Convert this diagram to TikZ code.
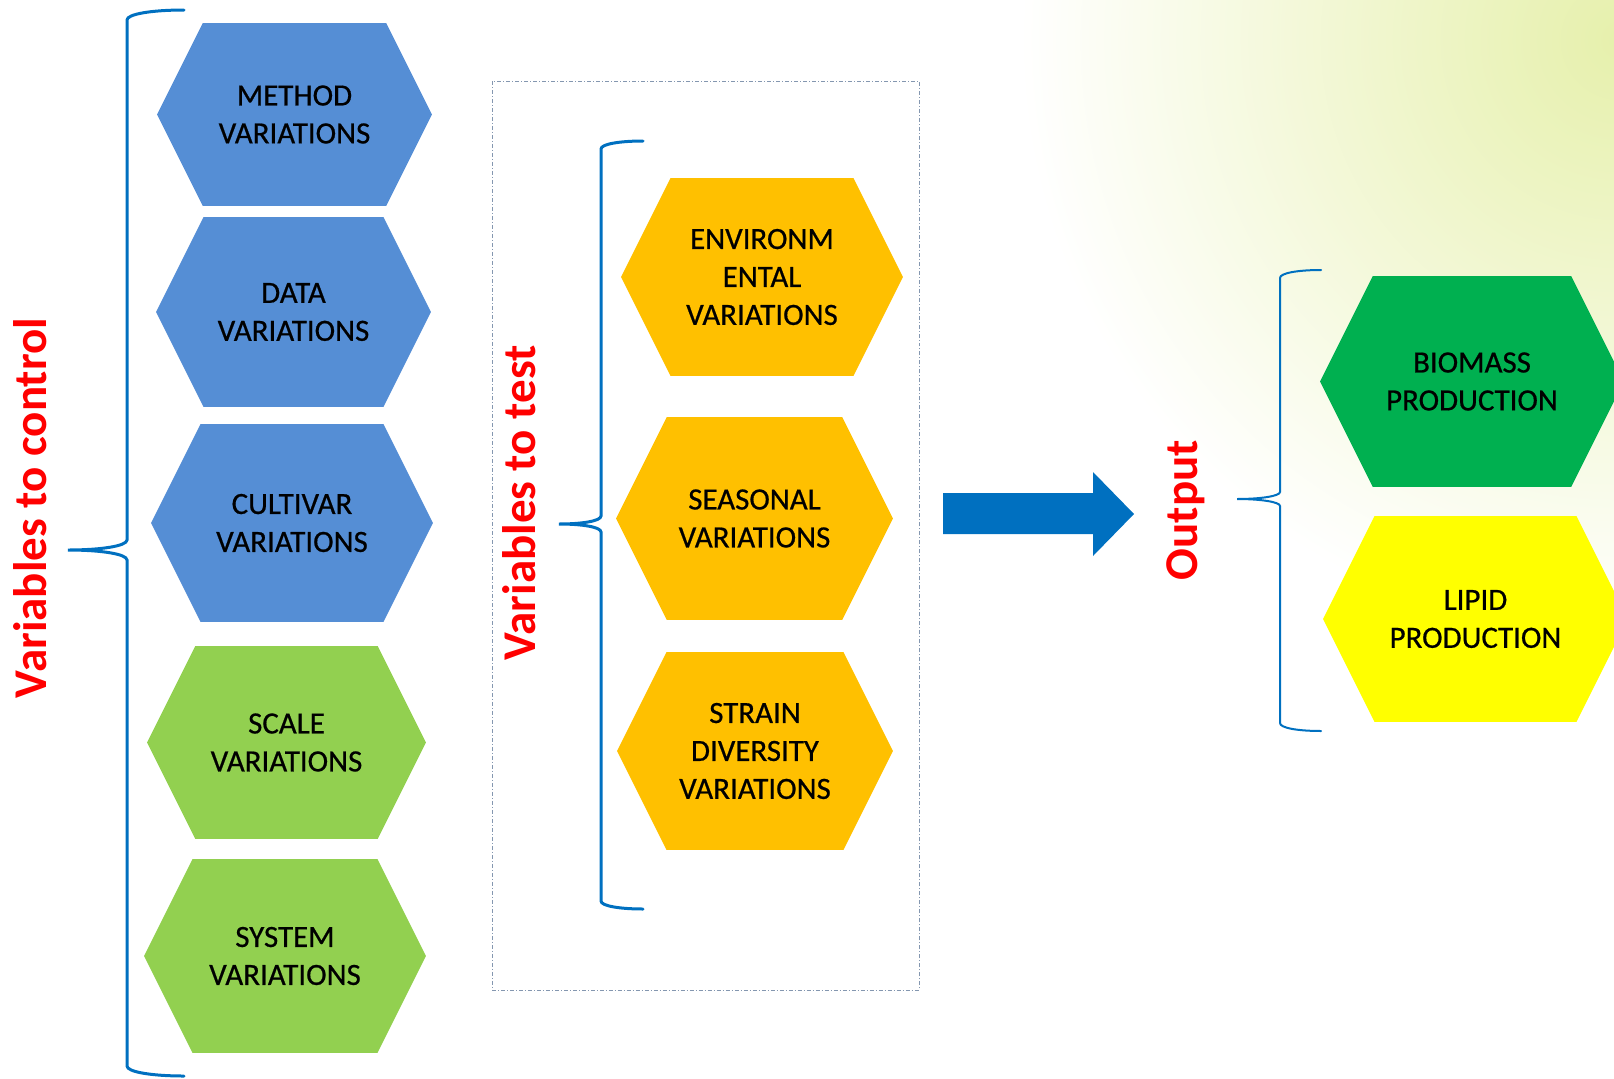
\documentclass[tikz,border=0pt]{standalone}
\usepackage{fontspec}
\setmainfont{Carlito}
\newfontfamily\hexfont[FakeBold=0.6]{Carlito}
\usetikzlibrary{calc}

\definecolor{hexblue}{HTML}{558ED5}
\definecolor{hexlime}{HTML}{92D050}
\definecolor{hexorange}{HTML}{FFC000}
\definecolor{hexgreen}{HTML}{00B050}
\definecolor{hexyellow}{HTML}{FFFF00}
\definecolor{bracecol}{HTML}{0070C0}
\definecolor{boxcol}{HTML}{8497B0}
\definecolor{bgtint}{RGB}{230,240,172}

\begin{document}
\begin{tikzpicture}[x=0.02cm, y=-0.02cm,
    hexa/.style={inner sep=0pt, align=center,
      font=\hexfont\fontsize{17.6}{21.6}\selectfont,
      path picture={
        \fill[#1] (path picture bounding box.west)
          -- ($(path picture bounding box.north west)!0.5!90:(path picture bounding box.west)$)
          -- ($(path picture bounding box.north east)!0.5!-90:(path picture bounding box.east)$)
          -- (path picture bounding box.east)
          -- ($(path picture bounding box.south east)!0.5!90:(path picture bounding box.east)$)
          -- ($(path picture bounding box.south west)!0.5!-90:(path picture bounding box.west)$)
          -- cycle;}},
    vlabel/.style={rotate=90, text=red, font=\fontsize{26.75}{30}\selectfont\bfseries},
    curly/.style={draw=bracecol, line width=0.06cm, line cap=round}]

    \useasboundingbox (0,0) rectangle (1614,1079);
    \clip (0,0) rectangle (1614,1079);

    % 背景
    \shade[inner color=bgtint, outer color=white] (1620,40) circle (600);

    % 六角形を置く
    \node[hexa=hexblue, minimum width=5.5cm, minimum height=3.66cm] (M) at (294.5, 114.5) {METHOD\\VARIATIONS};
    \node[hexa=hexblue, minimum width=5.5cm, minimum height=3.8cm] (D) at (293.5, 312) {DATA\\VARIATIONS};
    \node[hexa=hexblue, minimum width=5.64cm, minimum height=3.96cm] (C) at (292, 523) {CULTIVAR\\VARIATIONS};
    \node[hexa=hexlime, minimum width=5.58cm, minimum height=3.86cm] (SC) at (286.5, 742.5) {SCALE\\VARIATIONS};
    \node[hexa=hexlime, minimum width=5.64cm, minimum height=3.88cm] (SY) at (285, 956) {SYSTEM\\VARIATIONS};

    \node[hexa=hexorange, minimum width=5.64cm, minimum height=3.96cm] (E) at (762, 277) {ENVIRONM\\ENTAL\\VARIATIONS};
    \node[hexa=hexorange, minimum width=5.54cm, minimum height=4.06cm] (SE) at (754.5, 518.5) {SEASONAL\\VARIATIONS};
    \node[hexa=hexorange, minimum width=5.52cm, minimum height=3.96cm] (ST) at (755, 751) {STRAIN\\DIVERSITY\\VARIATIONS};

    \node[hexa=hexgreen, minimum width=6.08cm, minimum height=4.22cm] (B) at (1472, 381.5) {BIOMASS\\PRODUCTION};
    \node[hexa=hexyellow, minimum width=6.1cm, minimum height=4.12cm] (L) at (1475.5, 619) {LIPID\\PRODUCTION};

    % 枠
    \draw[boxcol, line width=0.02cm, dash pattern=on 0.08cm off 0.04cm on 0.02cm off 0.04cm] (492,81) rectangle (919,990);

    % 括弧を描く
    \draw[curly] (184,10) .. controls (152,10) and (127,14) .. (127,20)
        -- (127,540) .. controls (127,546) and (101,550) .. (68,550)
        .. controls (101,550) and (127,554) .. (127,560)
        -- (127,1066) .. controls (127,1072) and (152,1076) .. (184,1076);
    \draw[curly] (643,141) .. controls (620,141) and (601,144) .. (601,149)
        -- (601,516) .. controls (601,521) and (582,524) .. (559,524)
        .. controls (582,524) and (601,527) .. (601,532)
        -- (601,901) .. controls (601,906) and (620,909) .. (643,909);
    \draw[curly, line width=0.04cm] (1321,270) .. controls (1298,270) and (1280,273) .. (1280,278)
        -- (1280,492) .. controls (1280,496) and (1261,499) .. (1237,499)
        .. controls (1261,499) and (1280,502) .. (1280,506)
        -- (1280,723) .. controls (1280,728) and (1298,731) .. (1321,731);

    % 矢印
    \fill[bracecol] (943,493) -- (1093,493) -- (1093,472) -- (1134,514)
        -- (1093,556) -- (1093,534) -- (943,534) -- cycle;

    % 文字を入れる
    \node[vlabel] (ctrl) at (30, 508) {Variables to control};
    \node[vlabel] (test) at (519, 503) {Variables to test};
    \node[vlabel] (out) at (1186, 510) {Output};

\end{tikzpicture}
\end{document}
